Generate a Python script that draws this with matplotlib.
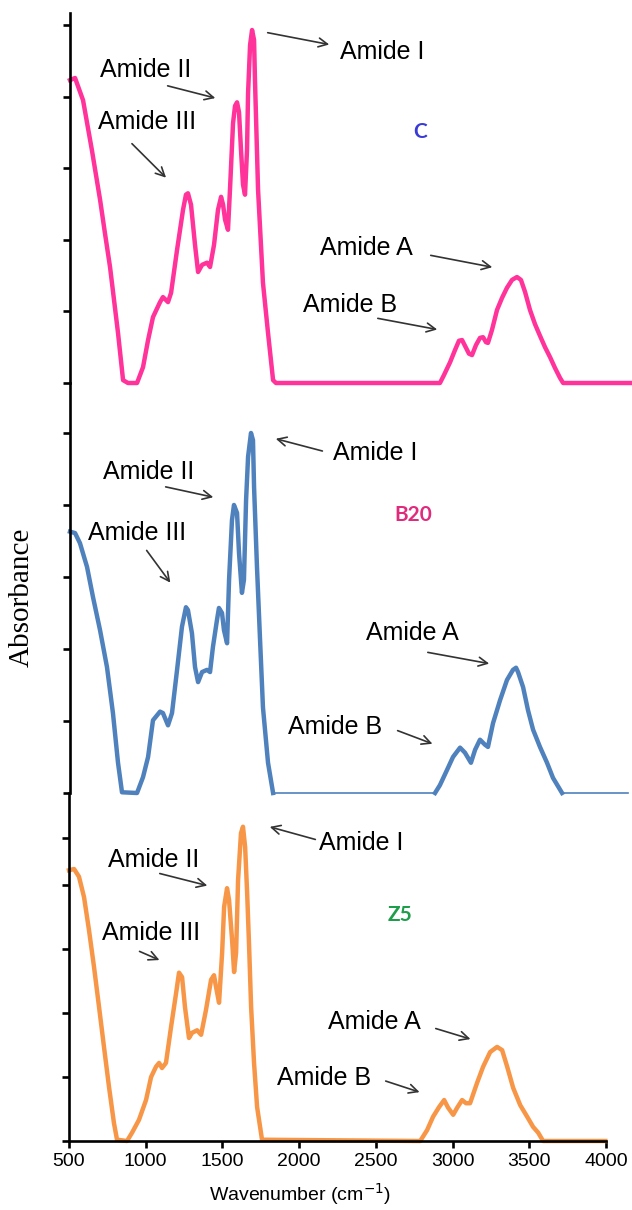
import numpy as np
import matplotlib
matplotlib.use('Agg')
import matplotlib.pyplot as plt

plt.rcParams['font.family'] = ['Liberation Sans', 'DejaVu Sans']

# FTIR spectra: wavenumber (cm-1) / absorbance (tick units)
c_wave = [500, 533, 585, 643, 696, 728, 761, 813, 846, 878, 937, 976, 1009, 1041, 1087,
          1106, 1139, 1159, 1198, 1237, 1256, 1269, 1289, 1315, 1335, 1361, 1393, 1413,
          1439, 1465, 1485, 1498, 1511, 1530, 1543, 1563, 1576, 1589, 1602, 1615, 1628,
          1641, 1654, 1661, 1674, 1687, 1700, 1706, 1726, 1758, 1791, 1824, 1843, 2912,
          2938, 2978, 3010, 3036, 3056, 3075, 3101, 3121, 3147, 3173, 3193, 3212, 3225,
          3251, 3284, 3317, 3349, 3382, 3414, 3440, 3467, 3499, 3532, 3564, 3597, 3630,
          3662, 3695, 3715, 4151]
c_abs = [4.23, 4.26, 3.95, 3.25, 2.56, 2.09, 1.62, 0.70, 0.04, 0, 0, 0.22, 0.60, 0.92, 1.13,
         1.20, 1.13, 1.26, 1.86, 2.42, 2.63, 2.65, 2.49, 1.93, 1.55, 1.65, 1.68, 1.62,
         1.93, 2.42, 2.60, 2.49, 2.28, 2.14, 2.70, 3.63, 3.87, 3.92, 3.78, 3.25, 2.77,
         2.63, 3.25, 4.05, 4.72, 4.93, 4.79, 4.23, 2.70, 1.40, 0.70, 0.04, 0, 0,
         0.11, 0.29, 0.46, 0.59, 0.60, 0.52, 0.41, 0.39, 0.53, 0.63, 0.64, 0.57, 0.56,
         0.74, 1.02, 1.19, 1.33, 1.44, 1.48, 1.44, 1.27, 1.02, 0.82, 0.66, 0.50, 0.36,
         0.21, 0.07, 0, 0]

b20_wave = [500, 533, 565, 611, 650, 696, 741, 780, 813, 839, 937, 976, 1009, 1041, 1087,
            1106, 1139, 1165, 1198, 1230, 1256, 1269, 1295, 1315, 1335, 1361, 1393, 1413,
            1432, 1458, 1471, 1491, 1504, 1524, 1537, 1556, 1569, 1589, 1602, 1621, 1634,
            1648, 1661, 1680, 1693, 1700, 1719, 1739, 1758, 1791, 1824, 2880,
            2912, 2958, 2997, 3043, 3075, 3114, 3141, 3173, 3206, 3225, 3258, 3304, 3349,
            3388, 3408, 3421, 3454, 3486, 3519, 3564, 3610, 3649, 3708, 4138]
b20_abs = [3.63, 3.61, 3.47, 3.14, 2.72, 2.26, 1.75, 1.11, 0.42, 0.01, 0, 0.22, 0.50, 1.01, 1.13,
           1.11, 0.94, 1.11, 1.71, 2.31, 2.58, 2.54, 2.22, 1.75, 1.54, 1.68, 1.71, 1.68,
           2.03, 2.40, 2.57, 2.50, 2.26, 2.08, 2.96, 3.79, 4.00, 3.89, 3.33, 2.78, 2.96,
           4.07, 4.67, 5.00, 4.90, 4.25, 3.14, 2.13, 1.19, 0.42, 0, 0,
           0.11, 0.32, 0.50, 0.63, 0.56, 0.42, 0.60, 0.74, 0.67, 0.64, 0.97, 1.29, 1.57,
           1.71, 1.74, 1.68, 1.47, 1.15, 0.88, 0.64, 0.42, 0.21, 0, 0]

z5_wave = [500, 533, 565, 598, 630, 663, 696, 728, 761, 793, 813, 878, 911, 956, 1002,
           1035, 1067, 1087, 1106, 1132, 1165, 1198, 1217, 1237, 1256, 1282, 1302, 1335,
           1361, 1393, 1426, 1445, 1458, 1478, 1498, 1511, 1530, 1543, 1563, 1576, 1589,
           1602, 1621, 1634, 1648, 1661, 1674, 1687, 1706, 1726, 1758, 2789,
           2834, 2873, 2912, 2945, 2971, 3004, 3030, 3062, 3088, 3114, 3160, 3199, 3245,
           3290, 3323, 3356, 3395, 3441, 3486, 3525, 3558, 3590, 3995]
z5_abs = [4.23, 4.25, 4.13, 3.81, 3.30, 2.72, 2.09, 1.47, 0.84, 0.28, 0.02, 0, 0.13, 0.33, 0.64,
          1.00, 1.16, 1.22, 1.14, 1.22, 1.78, 2.31, 2.63, 2.56, 2.09, 1.61, 1.69, 1.73,
          1.66, 2.05, 2.52, 2.59, 2.41, 2.16, 2.94, 3.66, 3.95, 3.77, 3.14, 2.64, 2.94,
          4.08, 4.81, 4.91, 4.59, 3.88, 3.03, 2.09, 1.22, 0.53, 0.02, 0,
          0.17, 0.38, 0.53, 0.64, 0.52, 0.41, 0.52, 0.64, 0.59, 0.59, 0.91, 1.16, 1.39,
          1.47, 1.42, 1.16, 0.83, 0.56, 0.38, 0.22, 0.13, 0, 0]

x_ticks = [500, 1000, 1500, 2000, 2500, 3000, 3500, 4000]

# band labels per panel: (text, text pos, arrow tail, arrow head)
c_bands = [
    ('Amide I', (2260, 4.62), (1771, 4.90), (2208, 4.72)),
    ('Amide II', (696, 4.37), (1119, 4.16), (1465, 3.97)),
    ('Amide III', (683, 3.65), (891, 3.37), (1139, 2.84)),
    ('Amide A', (2130, 1.89), (2834, 1.79), (3271, 1.61)),
    ('Amide B', (2019, 1.09), (2489, 0.91), (2912, 0.74)),
]
b20_bands = [
    ('Amide I', (2215, 4.72), (2163, 4.74), (1824, 4.93)),
    ('Amide II', (715, 4.46), (1106, 4.26), (1452, 4.10)),
    ('Amide III', (617, 3.61), (989, 3.40), (1165, 2.89)),
    ('Amide A', (2430, 2.22), (2815, 1.96), (3251, 1.79)),
    ('Amide B', (1921, 0.92), (2619, 0.88), (2880, 0.67)),
]
z5_bands = [
    ('Amide I', (2130, 4.66), (2123, 4.70), (1791, 4.92)),
    ('Amide II', (754, 4.39), (1074, 4.19), (1419, 3.98)),
    ('Amide III', (715, 3.25), (943, 2.98), (1106, 2.81)),
    ('Amide A', (2189, 1.86), (2873, 1.77), (3134, 1.58)),
    ('Amide B', (1856, 0.98), (2547, 0.95), (2802, 0.75)),
]


def split_flat(w, a, gap=300):
    # break the thick line over long flat zero stretches
    xs, ys = [], []
    for i in range(len(w)):
        xs.append(w[i])
        ys.append(a[i])
        if i + 1 < len(w) and a[i] == 0 and a[i + 1] == 0 and w[i + 1] - w[i] > gap:
            xs.append(np.nan)
            ys.append(np.nan)
    return xs, ys


def style_axis(ax, yticks, bottom=False):
    for s in ['top', 'right']:
        ax.spines[s].set_visible(False)
    ax.spines['left'].set_linewidth(1.9)
    ax.set_yticks(yticks)
    ax.set_yticklabels([])
    ax.tick_params(axis='y', direction='out', length=5, width=1.9)
    if bottom:
        ax.spines['bottom'].set_linewidth(1.9)
        ax.set_xticks(x_ticks)
        ax.tick_params(axis='x', direction='out', length=5, width=1.9, labelsize=14, pad=4)
    else:
        ax.spines['bottom'].set_visible(False)
        ax.set_xticks([])
    ax.patch.set_alpha(0)


def add_bands(ax, bands, name, name_pos, name_color):
    for label, tpos, tail, head in bands:
        ax.text(tpos[0], tpos[1], label, fontsize=18, ha='left', va='center', color='black')
        ax.annotate('', xy=head, xytext=tail,
                    arrowprops=dict(arrowstyle='->', color='#333333', lw=1.2, mutation_scale=16))
    ax.text(name_pos[0], name_pos[1], name, fontsize=15, fontweight='bold',
            family=['Lato', 'DejaVu Sans'], color=name_color, ha='center', va='center')


fig = plt.figure(figsize=(6.32, 12.10), dpi=100)

ax1 = fig.add_axes([70 / 632, 827 / 1210, 560 / 632, 370 / 1210])
ax2 = fig.add_axes([70 / 632, 417 / 1210, 560 / 632, 410 / 1210])
ax3 = fig.add_axes([69 / 632, 69 / 1210, 537 / 632, 348 / 1210])

# C
ax1.plot(c_wave, c_abs, color='#ff3399', lw=3.2, clip_on=False)
ax1.set_xlim(500, 4151)
ax1.set_ylim(0, 370 / 71.6)
style_axis(ax1, [0, 1, 2, 3, 4, 5])
add_bands(ax1, c_bands, 'C', (2782, 3.51), '#3a3ad6')

# B20
ax2.plot(b20_wave, b20_abs, color='#4f81bd', lw=1.2, clip_on=False)
bx, by = split_flat(b20_wave, b20_abs)
ax2.plot(bx, by, color='#4f81bd', lw=3.2, clip_on=False)
ax2.set_xlim(500, 4151)
ax2.set_ylim(0, 410 / 72)
style_axis(ax2, [0, 1, 2, 3, 4, 5])
add_bands(ax2, b20_bands, 'B20', (2736, 3.86), '#e02a7c')

# Z5
ax3.plot(z5_wave, z5_abs, color='#f79646', lw=3.2, clip_on=False)
ax3.set_xlim(500, 4000)
ax3.set_ylim(0, 348 / 64)
style_axis(ax3, [0, 1, 2, 3, 4, 4.73], bottom=True)
add_bands(ax3, z5_bands, 'Z5', (2658, 3.53), '#1e9e4a')
ax3.set_xlabel('Wavenumber (cm$^{-1}$)', fontsize=14)
ax3.xaxis.set_label_coords(0.43, -0.115)

fig.text(22 / 632, 1 - 597 / 1210, 'Absorbance', rotation=90, fontsize=21,
         family='Liberation Serif', ha='center', va='center')

fig.savefig('out.png', dpi=100)
